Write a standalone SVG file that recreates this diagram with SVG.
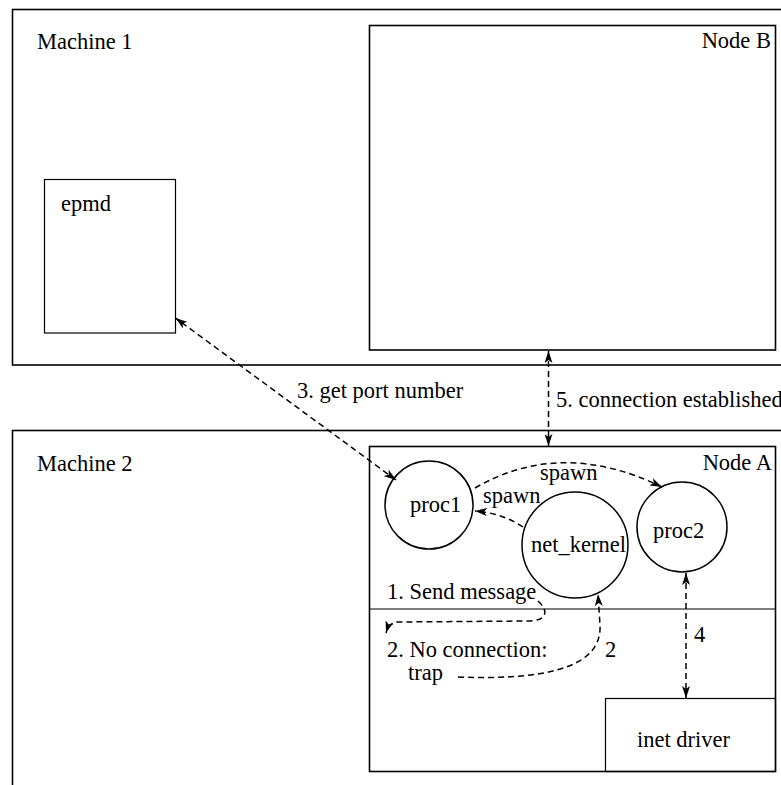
<svg xmlns="http://www.w3.org/2000/svg" width="781" height="785" viewBox="0 0 781 785">
<style>
text{font-family:"Liberation Serif","Times New Roman","DejaVu Serif",serif;font-size:22.5px;fill:#000}
.box{fill:none;stroke:#000;stroke-width:1.6}
.thin{fill:none;stroke:#000;stroke-width:1.2}
.circ{fill:#fff;stroke:#000;stroke-width:1.5}
.dash{fill:none;stroke:#000;stroke-width:1.5;stroke-dasharray:6,4}
</style>
<defs>
<marker id="ah" viewBox="0 0 12 8" refX="12" refY="4" markerWidth="12" markerHeight="8" markerUnits="userSpaceOnUse" orient="auto-start-reverse">
<path d="M0,0 L12,4 L0,8 L3,4 z" fill="#000"/>
</marker>
</defs>
<rect width="781" height="785" fill="#fff"/>
<g id="machine1">
<rect class="box" x="12.5" y="9.5" width="800" height="355.5"/>
<text x="37" y="49">Machine 1</text>
</g>
<g id="machine2">
<rect class="box" x="12.5" y="430.5" width="800" height="400"/>
<text x="37" y="471">Machine 2</text>
</g>
<g id="epmd">
<rect class="thin" x="44.5" y="179.5" width="131" height="153.5"/>
<text x="61" y="211">epmd</text>
</g>
<g id="nodeB">
<rect class="box" x="369.5" y="25.5" width="406" height="324.5"/>
<text x="771" y="48" text-anchor="end">Node B</text>
</g>
<g id="nodeA">
<rect class="box" x="369.5" y="446.5" width="406" height="325"/>
<line class="thin" x1="369.5" y1="609" x2="775.5" y2="609"/>
<text x="772" y="470" text-anchor="end">Node A</text>
</g>
<g id="inet_driver">
<rect class="thin" x="605.5" y="698.5" width="170" height="73"/>
<text x="637" y="747">inet driver</text>
</g>
<g id="proc1">
<circle class="circ" cx="429" cy="505" r="44"/>
<text x="410" y="512">proc1</text>
</g>
<g id="net_kernel">
<circle class="circ" cx="575" cy="545" r="53"/>
<text x="531" y="552">net_kernel</text>
</g>
<g id="proc2">
<circle class="circ" cx="682" cy="527" r="45"/>
<text x="653" y="538">proc2</text>
</g>
<g id="connectors">
<line class="dash" x1="396" y1="480" x2="175.5" y2="318" marker-start="url(#ah)" marker-end="url(#ah)"/>
<line class="dash" x1="548.5" y1="351" x2="548.5" y2="446" marker-start="url(#ah)" marker-end="url(#ah)"/>
<line class="dash" x1="686" y1="573" x2="686" y2="698" marker-start="url(#ah)" marker-end="url(#ah)"/>
<path class="dash" d="M475,488 Q561,438 662,487" marker-end="url(#ah)"/>
<path class="dash" d="M523,527 Q502,513 475,511" marker-end="url(#ah)"/>
<path class="dash" d="M538,601 C550,612 546,621 528,621 L398,622 Q389,623 386,633" marker-end="url(#ah)"/>
<path class="dash" d="M458,677 C560,681 602,662 600,625 L598,594" marker-end="url(#ah)"/>
</g>
<g id="labels">
<text x="297" y="398">3. get port number</text>
<text x="556" y="407">5. connection established</text>
<text x="540" y="480">spawn</text>
<text x="483" y="503">spawn</text>
<text x="387" y="599">1. Send message</text>
<text x="387" y="657">2. No connection:</text>
<text x="408" y="680">trap</text>
<text x="605" y="657">2</text>
<text x="694" y="642">4</text>
</g>
</svg>
